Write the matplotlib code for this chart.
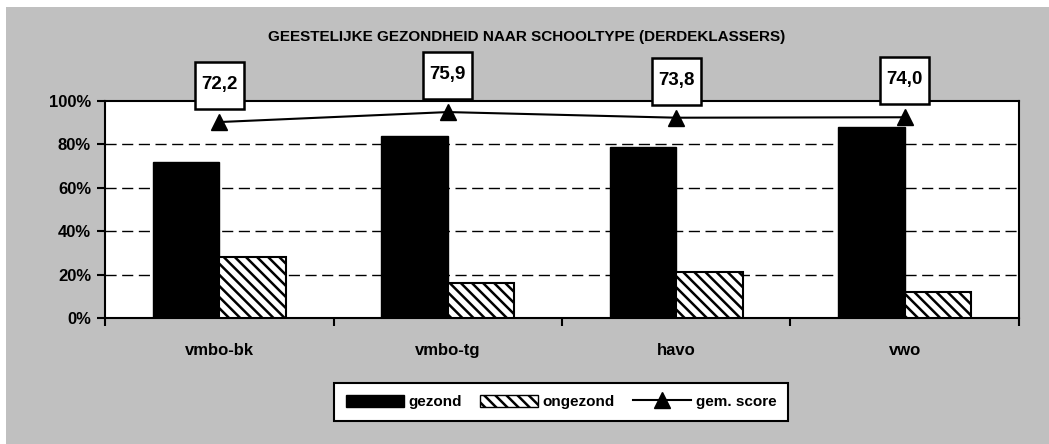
import matplotlib
matplotlib.use("Agg")
import matplotlib.pyplot as plt
from matplotlib.patches import Rectangle, Patch
from matplotlib.lines import Line2D
import numpy as np

# ---- data ----
categories = ["vmbo-bk", "vmbo-tg", "havo", "vwo"]
gezond = [72, 84, 79, 88]
ongezond = [28, 16, 21, 12]
score_labels = ["72,2", "75,9", "73,8", "74,0"]
score_pos = [90.3, 94.9, 92.3, 92.5]   # plotted height of gem. score (%)
yticks = [0, 20, 40, 60, 80, 100]
title = "GEESTELIJKE GEZONDHEID NAAR SCHOOLTYPE (DERDEKLASSERS)"

plt.rcParams["font.family"] = ["Liberation Sans", "DejaVu Sans"]
plt.rcParams["font.weight"] = "bold"
plt.rcParams["hatch.linewidth"] = 1.8

HATCH = "\\\\\\"

W, H = 1049, 444
fig = plt.figure(figsize=(W / 100, H / 100), dpi=100, facecolor="white")
# grey chart area
fig.patches.append(Rectangle((6 / W, 0), 1 - 6 / W, 1 - 7 / H, transform=fig.transFigure,
                             facecolor="#C0C0C0", edgecolor="none", zorder=-10))

ax = fig.add_axes([105 / W, 1 - 318 / H, (1019 - 105) / W, (318 - 101) / H])
ax.set_facecolor("white")

x = np.arange(len(categories))
bw = 0.29
ax.bar(x - bw / 2, gezond, bw, color="black", edgecolor="black", linewidth=1, zorder=3,
       label="gezond")
ax.bar(x + bw / 2, ongezond, bw, color="white", edgecolor="black", linewidth=1.5,
       hatch=HATCH, zorder=3, label="ongezond")
ax.plot(x, score_pos, color="black", linewidth=1.5, marker="^", markersize=11,
        zorder=5, clip_on=False, label="gem. score")

ax.set_xlim(-0.5, 3.5)
ax.set_ylim(0, 100)
ax.set_yticks(yticks)
ax.set_yticklabels([f"{v}%" for v in yticks], fontsize=12, fontweight="bold")
for v in yticks[1:-1]:
    ax.axhline(v, color="black", linestyle=(0, (8, 4)), linewidth=1, zorder=1)

ax.set_xticks(x)
ax.set_xticklabels(categories, fontsize=12, fontweight="bold")
ax.tick_params(axis="x", which="major", length=0, pad=18)
ax.set_xticks(np.arange(-0.5, 4, 1), minor=True)
ax.tick_params(axis="x", which="minor", length=6, width=1.5, direction="out")
ax.tick_params(axis="y", length=6, width=1.5, direction="out", pad=4)
for s in ax.spines.values():
    s.set_linewidth(1.5)
    s.set_color("black")

# value boxes above points
bw_px, bh_px = 49, 47
gap = 13
for xi, yi, lab in zip(x, score_pos, score_labels):
    px, py = ax.transData.transform((xi, yi))
    x0 = (px - bw_px / 2) / W
    y0 = (py + gap) / H
    fig.patches.append(Rectangle((x0, y0), bw_px / W, bh_px / H, transform=fig.transFigure,
                                 facecolor="white", edgecolor="black", linewidth=1.8,
                                 zorder=6))
    fig.text(px / W, (py + gap + bh_px / 2 + 1) / H, lab, ha="center", va="center",
             fontsize=13.5, fontweight="bold", zorder=7)

fig.text(527 / W, 1 - 37 / H, title, ha="center", va="center", fontsize=11,
         fontweight="bold")

handles = [Patch(facecolor="black", edgecolor="black"),
           Patch(facecolor="white", edgecolor="black", hatch=HATCH),
           Line2D([], [], color="black", linewidth=1.5, marker="^", markersize=11)]
leg = fig.legend(handles, ["gezond", "ongezond", "gem. score"], loc="center",
                 bbox_to_anchor=(561 / W, 1 - 402 / H), ncol=3, frameon=True,
                 fancybox=False, edgecolor="black", facecolor="white", framealpha=1,
                 fontsize=11, handlelength=3.8, handleheight=0.8, columnspacing=1.2,
                 handletextpad=0.3, borderpad=0.75)
leg.get_frame().set_linewidth(1.5)
for t in leg.get_texts():
    t.set_fontweight("bold")

fig.savefig("out.png", dpi=100, facecolor="white")
